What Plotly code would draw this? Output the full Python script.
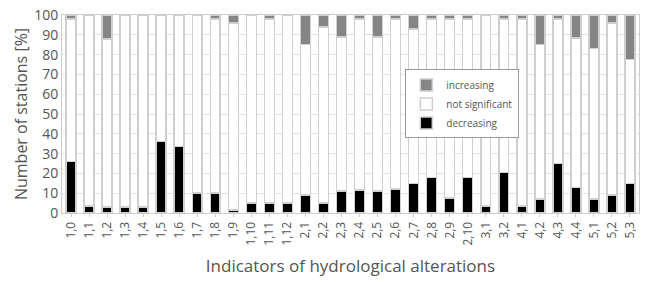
import plotly.graph_objects as go

categories = ["1,0","1,1","1,2","1,3","1,4","1,5","1,6","1,7","1,8","1,9","1,10","1,11","1,12",
              "2,1","2,2","2,3","2,4","2,5","2,6","2,7","2,8","2,9","2,10",
              "3,1","3,2","4,1","4,2","4,3","4,4","5,1","5,2","5,3"]
decreasing = [26, 3.5, 3, 3, 3, 36, 33.5, 10, 10, 1.5, 5, 5, 5,
              9, 5, 11, 11.5, 11, 12, 15, 18, 7.5, 18,
              3.5, 20.5, 3.5, 7, 25, 13, 7, 9, 15]
increasing = [2, 0, 12, 0, 0, 0, 0, 0, 2, 4, 0, 2, 0,
              15, 6, 11, 2, 11, 2, 7, 2, 2, 2,
              0, 2, 2, 15, 2, 11.5, 17, 4, 22.5]
not_significant = [100 - d - i for d, i in zip(decreasing, increasing)]

font_col = "#555555"
fig = go.Figure()
fig.add_bar(x=categories, y=decreasing, name="decreasing",
            marker=dict(color="#000000", line=dict(color="#cfcfcf", width=1.5)))
fig.add_bar(x=categories, y=not_significant, name="not significant",
            marker=dict(color="#ffffff", line=dict(color="#cfcfcf", width=1.5)))
fig.add_bar(x=categories, y=increasing, name="increasing",
            marker=dict(color="#858585", line=dict(color="#cfcfcf", width=1.5)))

fig.update_layout(
    barmode="stack", bargap=0.45,
    width=652, height=282,
    margin=dict(l=62, r=13, t=15, b=69),
    paper_bgcolor="white", plot_bgcolor="white",
    font=dict(family="Open Sans", color=font_col, size=10),
    showlegend=True,
    legend=dict(traceorder="reversed", x=0.595, y=0.725, xanchor="left", yanchor="top",
                bordercolor="#999999", borderwidth=1, bgcolor="white",
                font=dict(size=10, color=font_col), itemwidth=30,
                tracegroupgap=0),
)
fig.update_xaxes(type="category", tickangle=-90, tickfont=dict(size=12, color=font_col),
                 showline=True, linecolor="#cccccc", mirror=True, ticks="outside",
                 tickcolor="#cccccc", ticklen=3, automargin=False,
                 title=dict(text="Indicators of hydrological alterations",
                            font=dict(size=17, color=font_col), standoff=15))
fig.update_yaxes(range=[0, 100], dtick=10, tickfont=dict(size=14, color=font_col),
                 showgrid=True, gridcolor="#e3e3e3", gridwidth=1, automargin=False,
                 showline=True, linecolor="#cccccc", mirror=True, zeroline=False,
                 title=dict(text="Number of stations [%]", font=dict(size=16, color=font_col),
                            standoff=2))
fig.write_html("out.html", config={"displayModeBar": False},
               post_script="document.body.style.margin='0';")
